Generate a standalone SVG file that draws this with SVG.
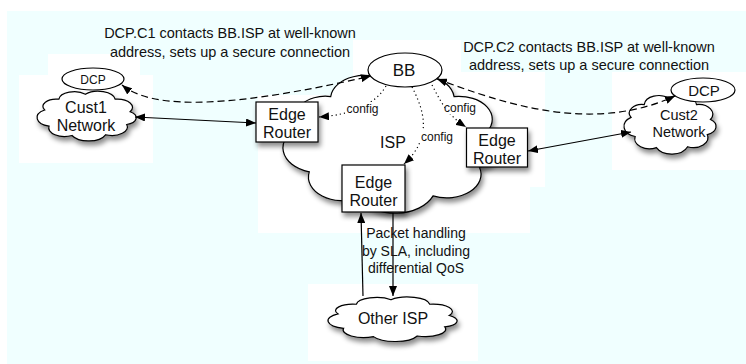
<svg xmlns="http://www.w3.org/2000/svg" xmlns:xlink="http://www.w3.org/1999/xlink" width="746" height="364" viewBox="0 0 746 364">
  <style>
    text { font-family: "Liberation Sans", Arial, sans-serif; fill: #111; }
    .shape { fill: #fff; stroke: #000; stroke-width: 1.2; }
    .bgw { fill: #fff; }
    .bgc { fill: #f0ffff; }
    .solid { fill: none; stroke: #000; stroke-width: 1.2; }
    .dash { fill: none; stroke: #000; stroke-width: 1.2; stroke-dasharray: 7 4; }
    .dot { fill: none; stroke: #000; stroke-width: 1.2; stroke-dasharray: 1.2 3; }
    .t16 { font-size: 16px; }
    .mid { text-anchor: middle; }
  </style>
  <defs>
    <filter id="sh" x="-20%" y="-20%" width="150%" height="160%">
      <feDropShadow dx="2" dy="4" stdDeviation="2.5" flood-color="#000" flood-opacity="0.45"/>
    </filter>
    <path id="cloud" vector-effect="non-scaling-stroke" d="M9.4,40.2 A13,13 0 0 1 23,20.9 A14.85,14.85 0 0 1 48.5,12 A16.4,16.4 0 0 1 77,20.9 A14.7,14.7 0 0 1 91.4,43.4 A12.6,12.6 0 0 1 88.1,66.1 A15,15 0 0 1 67.8,84.4 A17.7,17.7 0 0 1 35.6,85.7 A15.2,15.2 0 0 1 13.6,69 A16,16 0 0 1 9.4,40.2 Z"/>
    <marker id="ah" viewBox="0 0 10 8" refX="10" refY="4" markerWidth="10" markerHeight="8" markerUnits="userSpaceOnUse" orient="auto-start-reverse">
      <path d="M0,0 L10,4 L0,8 Z" fill="#000"/>
    </marker>
  </defs>

  <!-- background -->
  <g id="background">
    <rect x="0" y="0" width="746" height="364" fill="#fff"/>
    <rect class="bgc" x="7" y="11" width="739" height="353"/>
    <rect class="bgw" x="48" y="54" width="92" height="21"/>
    <rect class="bgw" x="19" y="75" width="134" height="88"/>
    <rect class="bgw" x="353" y="40" width="192" height="55"/>
    <rect class="bgw" x="258" y="95" width="287" height="92"/>
    <rect class="bgw" x="258" y="187" width="272" height="46"/>
    <rect class="bgc" x="461" y="38" width="257" height="34"/>
    <rect class="bgw" x="612" y="72" width="134" height="98"/>
    <rect class="bgw" x="308" y="284" width="170" height="77"/>
  </g>

  <!-- clouds -->
  <g id="cust1-network">
    <g filter="url(#sh)"><use href="#cloud" class="shape" transform="translate(34.9,87.5) scale(1.042,0.56)"/></g>
    <text class="t16 mid" x="86" y="112.7">Cust1</text>
    <text class="t16 mid" x="86" y="130.7">Network</text>
  </g>
  <g id="cust2-network">
    <g filter="url(#sh)"><use href="#cloud" class="shape" transform="translate(621.97,90.68) scale(0.968,0.664)"/></g>
    <text class="mid" style="font-size:14.5px" x="679" y="120.2">Cust2</text>
    <text class="mid" style="font-size:14.5px" x="679" y="137.2">Network</text>
  </g>
  <g id="isp">
    <g filter="url(#sh)"><use href="#cloud" class="shape" transform="translate(278.2,63.83) scale(2.284,1.565)"/></g>
    <text class="t16 mid" x="393" y="148">ISP</text>
  </g>
  <g id="other-isp">
    <g filter="url(#sh)"><use href="#cloud" class="shape" transform="translate(325.15,293.78) scale(1.358,0.5)"/></g>
    <text class="t16 mid" x="393" y="324">Other ISP</text>
  </g>

  <!-- connectors -->
  <g id="connectors">
    <path class="dash" d="M122,85 C155,112 240,106 371,76" marker-start="url(#ah)" marker-end="url(#ah)"/>
    <path class="dash" d="M437,79 C500,102 590,135 675,96" marker-start="url(#ah)" marker-end="url(#ah)"/>
    <path class="solid" d="M135,117 L256,123" marker-start="url(#ah)" marker-end="url(#ah)"/>
    <path class="solid" d="M528,151 L631,132" marker-start="url(#ah)" marker-end="url(#ah)"/>
    <path class="dot" d="M386,86 C375,105 350,115 319,117" marker-end="url(#ah)"/>
    <path class="dot" d="M432,85 C440,100 446,114 466,127" marker-end="url(#ah)"/>
    <path class="dot" d="M412,87 C425,112 432,138 404,164" marker-end="url(#ah)"/>
    <path class="solid" d="M363,296 L361,213" marker-end="url(#ah)"/>
    <path class="solid" d="M393,213 L393,296" marker-end="url(#ah)"/>
    <g id="connector-labels" style="font-size:12px">
      <rect x="345" y="102" width="35" height="14" fill="#fff"/>
      <text class="mid" x="362.5" y="113">config</text>
      <rect x="445" y="100" width="31" height="14" fill="#fff"/>
      <text class="mid" x="460" y="111.5">config</text>
      <rect x="420" y="130" width="34" height="14" fill="#fff"/>
      <text class="mid" x="437" y="140.5">config</text>
    </g>
  </g>

  <!-- ellipses -->
  <g id="dcp1">
    <ellipse class="shape" cx="93" cy="79" rx="31" ry="11"/>
    <text class="mid" style="font-size:12px" x="93" y="84">DCP</text>
  </g>
  <g id="dcp2">
    <ellipse class="shape" cx="703" cy="90" rx="32" ry="12"/>
    <text class="mid" style="font-size:15px" x="704" y="95.5">DCP</text>
  </g>
  <g id="bb">
    <ellipse class="shape" cx="405" cy="70" rx="37" ry="17"/>
    <text class="mid" style="font-size:17px" x="404" y="76">BB</text>
  </g>

  <!-- routers -->
  <g id="edge-router-left">
    <rect class="shape" x="256" y="102" width="62" height="40" filter="url(#sh)"/>
    <text class="t16 mid" x="287" y="120">Edge</text>
    <text class="t16 mid" x="287" y="138">Router</text>
  </g>
  <g id="edge-router-right">
    <rect class="shape" x="466.5" y="128" width="61" height="39" filter="url(#sh)"/>
    <text class="t16 mid" x="497" y="145.5">Edge</text>
    <text class="t16 mid" x="497" y="163.5">Router</text>
  </g>
  <g id="edge-router-bottom">
    <rect class="shape" x="342" y="165" width="63" height="47" filter="url(#sh)"/>
    <text class="t16 mid" x="373.5" y="187.5">Edge</text>
    <text class="t16 mid" x="373.5" y="205.5">Router</text>
  </g>

  <!-- free labels -->
  <g id="note-dcp-c1" style="font-size:14.5px">
    <text class="mid" x="230" y="38">DCP.C1 contacts BB.ISP at well-known</text>
    <text class="mid" x="230" y="57">address, sets up a secure connection</text>
  </g>
  <g id="note-dcp-c2" style="font-size:14.5px">
    <text class="mid" x="589" y="52">DCP.C2 contacts BB.ISP at well-known</text>
    <text class="mid" x="589" y="70">address, sets up a secure connection</text>
  </g>
  <g id="note-packet" style="font-size:14px">
    <text class="mid" x="416" y="238">Packet handling</text>
    <text class="mid" x="416" y="255.5">by SLA, including</text>
    <text class="mid" x="416" y="273">differential QoS</text>
  </g>
</svg>
